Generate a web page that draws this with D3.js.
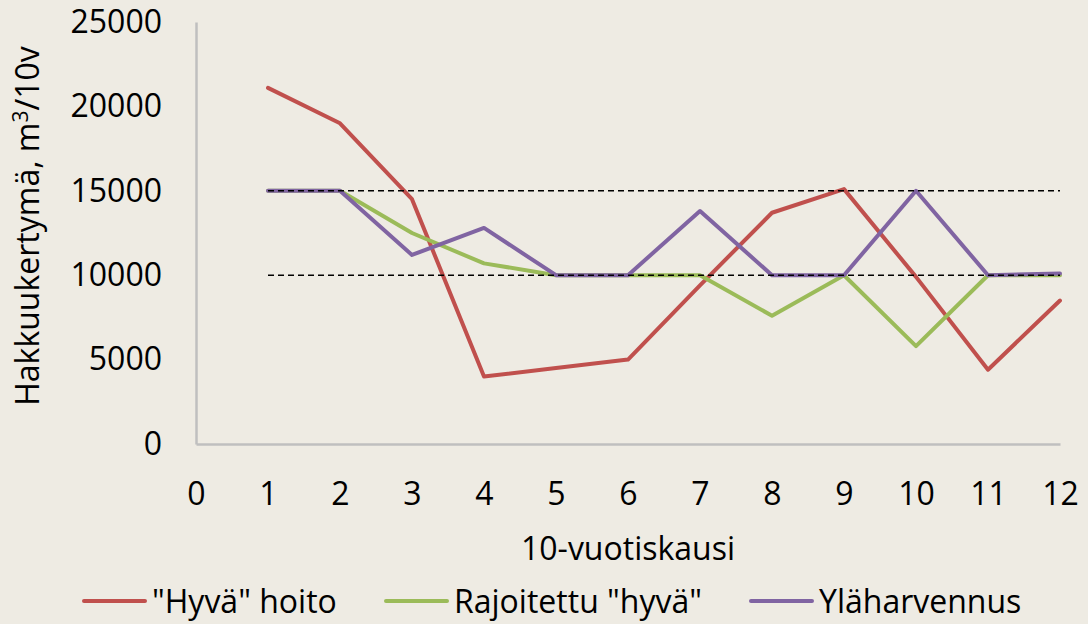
<!DOCTYPE html>
<html>
<head>
<meta charset="utf-8">
<script src="https://cdn.jsdelivr.net/npm/d3@7"></script>
<style>
    body { margin: 0; background: #eeebe3; }
    svg { display: block; font-family: "Open Sans", sans-serif; }
</style>
</head>
<body>
<div id="chart"></div>
<script>
// Periods (10-year) and harvest volumes, m3 per 10 years
const periods = [1, 2, 3, 4, 5, 6, 7, 8, 9, 10, 11, 12];
const hyvaHoito = [21100, 19000, 14500, 4000, 4500, 5000, 9400, 13700, 15100, 9900, 4400, 8500];
const rajoitettu = [15000, 15000, 12500, 10700, 10000, 10000, 10000, 7600, 10000, 5800, 10000, 10000];
const ylaharvennus = [15000, 15000, 11200, 12800, 10000, 10000, 13800, 10000, 10000, 15000, 10000, 10100];
const limits = [15000, 10000]; // dashed reference levels
const xTicks = [0, 1, 2, 3, 4, 5, 6, 7, 8, 9, 10, 11, 12];
const yTicks = [0, 5000, 10000, 15000, 20000, 25000];

const series = [
    { name: "\"Hyvä\" hoito", values: hyvaHoito, color: "#c0504d" },
    { name: "Rajoitettu \"hyvä\"", values: rajoitettu, color: "#9bbb59" },
    { name: "Yläharvennus", values: ylaharvennus, color: "#8064a2" }
];

const width = 1088, height = 624;

const svg = d3.select("#chart")
    .append("svg")
    .attr("width", width)
    .attr("height", height);

svg.append("rect")
    .attr("width", width)
    .attr("height", height)
    .attr("fill", "#eeebe3");

// Scales
const x = d3.scaleLinear().domain([0, 12]).range([196, 1060]);
const y = d3.scaleLinear().domain([0, 25000]).range([444, 22]);

// Y axis
const yAxis = svg.append("g")
    .attr("transform", `translate(${x(0)},0)`)
    .call(d3.axisLeft(y).tickValues(yTicks).tickSize(0).tickPadding(34).tickFormat(d3.format("d")));
yAxis.select(".domain").attr("stroke", "#bfbfbf").attr("stroke-width", 2.5);
yAxis.selectAll("text").attr("font-size", 32).attr("fill", "#000").attr("font-family", "Open Sans");

// X axis
const xAxis = svg.append("g")
    .attr("transform", `translate(0,${y(0)})`)
    .call(d3.axisBottom(x).tickValues(xTicks).tickSize(0).tickPadding(38).tickFormat(d3.format("d")));
xAxis.select(".domain").attr("stroke", "#bfbfbf").attr("stroke-width", 2.5);
xAxis.selectAll("text").attr("font-size", 32).attr("fill", "#000").attr("font-family", "Open Sans");

const line = d3.line()
    .x((d, i) => x(periods[i]))
    .y(d => y(d));

// Series lines
svg.selectAll(".series")
    .data(series)
    .join("path")
    .attr("class", "series")
    .attr("d", d => line(d.values))
    .attr("fill", "none")
    .attr("stroke", d => d.color)
    .attr("stroke-width", 4)
    .attr("stroke-linejoin", "round")
    .attr("stroke-linecap", "round");

// Dashed reference lines (drawn on top)
svg.selectAll(".limit")
    .data(limits)
    .join("path")
    .attr("class", "limit")
    .attr("d", v => line(periods.map(() => v)))
    .attr("fill", "none")
    .attr("stroke", "#000")
    .attr("stroke-width", 1.5)
    .attr("stroke-dasharray", "6,4");

// Axis titles
svg.append("text")
    .attr("x", 628)
    .attr("y", 560)
    .attr("text-anchor", "middle")
    .attr("font-size", 32)
    .text("10-vuotiskausi");

const yTitle = svg.append("text")
    .attr("transform", "translate(39,226) rotate(-90)")
    .attr("text-anchor", "middle")
    .attr("font-size", 32);
yTitle.append("tspan").text("Hakkuukertymä, m");
yTitle.append("tspan").attr("dy", -11).attr("font-size", 21).text("3");
yTitle.append("tspan").attr("dy", 11).text("/10v");

// Legend
const legendX = [84, 386, 751];
const legend = svg.selectAll(".legend")
    .data(series)
    .join("g")
    .attr("class", "legend")
    .attr("transform", (d, i) => `translate(${legendX[i]},601)`);

legend.append("line")
    .attr("x1", 0).attr("x2", 61)
    .attr("stroke", d => d.color)
    .attr("stroke-width", 4)
    .attr("stroke-linecap", "round");

legend.append("text")
    .attr("x", 68)
    .attr("y", 12)
    .attr("font-size", 32)
    .text(d => d.name);
</script>
</body>
</html>
